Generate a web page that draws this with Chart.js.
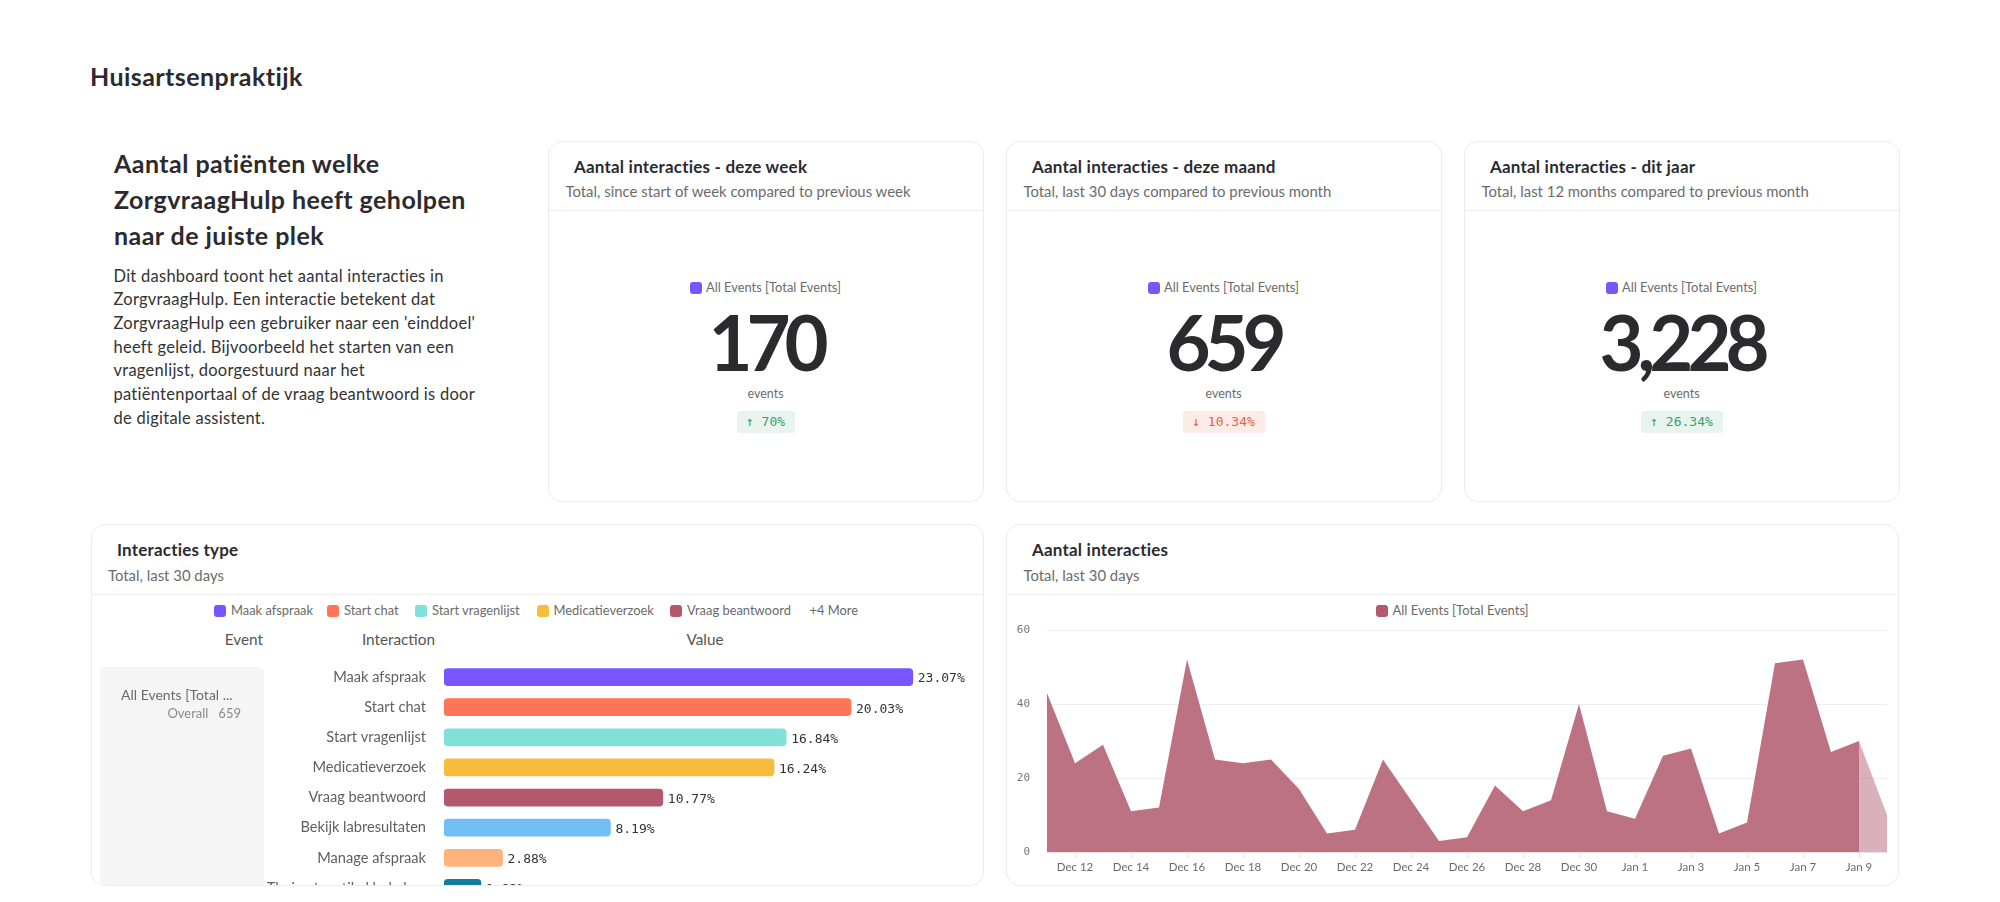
<!DOCTYPE html>
<html>
<head>
<meta charset="utf-8">
<title>Huisartsenpraktijk</title>
<script src="https://cdn.jsdelivr.net/npm/chart.js@4"></script>
<style>
  html, body { margin: 0; background: #fff; }
  body { position: relative; width: 2000px; height: 902px; overflow: hidden; font-family: Lato, sans-serif; color: #2b2b2f; }
  .card { position: absolute; box-sizing: border-box; border: 1px solid #ececec; border-radius: 14px; overflow: hidden; }
  .rule { position: absolute; left: 0; right: 0; height: 1px; background: #eeeeee; }
  .t { position: absolute; white-space: pre; transform: translateY(-50%); line-height: 1.2; }
  .sq { position: absolute; width: 12px; height: 12px; border-radius: 3px; transform: translateY(-50%); }
  .badge { position: absolute; height: 22px; border-radius: 3px; }
  canvas { position: absolute; display: block; }
</style>
</head>
<body>
<canvas id="bar-chart" width="892" height="241"></canvas>
<canvas id="area-chart" width="892" height="266" style="left:1006px;top:620px"></canvas>
<script>
// Data
const barLabels = ["Maak afspraak", "Start chat", "Start vragenlijst", "Medicatieverzoek", "Vraag beantwoord", "Bekijk labresultaten", "Manage afspraak", "Thuisarts artikel bekeken"];
const barValues = [23.07, 20.03, 16.84, 16.24, 10.77, 8.19, 2.88, 1.82];
const barColors = ["#7856ff", "#ff7557", "#80e1d9", "#f8bc3b", "#b2596e", "#72bef4", "#ffb27a", "#0f7ea0"];
const legendLabels = ["Maak afspraak", "Start chat", "Start vragenlijst", "Medicatieverzoek", "Vraag beantwoord"];

const dayLabels = ["Dec 11", "Dec 12", "Dec 13", "Dec 14", "Dec 15", "Dec 16", "Dec 17", "Dec 18", "Dec 19", "Dec 20", "Dec 21", "Dec 22", "Dec 23", "Dec 24", "Dec 25", "Dec 26", "Dec 27", "Dec 28", "Dec 29", "Dec 30", "Dec 31", "Jan 1", "Jan 2", "Jan 3", "Jan 4", "Jan 5", "Jan 6", "Jan 7", "Jan 8", "Jan 9", "Jan 10"];
const dayValues = [43, 24, 29, 11, 12, 52, 25, 24, 25, 17, 5, 6, 25, 14, 3, 4, 18, 11, 14, 40, 11, 9, 26, 28, 5, 8, 51, 52, 27, 30, 10];

const kpiTitles = ["Aantal interacties - deze week", "Aantal interacties - deze maand", "Aantal interacties - dit jaar"];
const kpiSubtitles = ["Total, since start of week compared to previous week", "Total, last 30 days compared to previous month", "Total, last 12 months compared to previous month"];
const kpiValues = ["170", "659", "3,228"];
const kpiDeltas = ["↑ 70%", "↓ 10.34%", "↑ 26.34%"];
const kpiUp = [true, false, true];

const introHeading = ["Aantal patiënten welke", "ZorgvraagHulp heeft geholpen", "naar de juiste plek"];
const introBody = ["Dit dashboard toont het aantal interacties in", "ZorgvraagHulp. Een interactie betekent dat", "ZorgvraagHulp een gebruiker naar een 'einddoel'", "heeft geleid. Bijvoorbeeld het starten van een", "vragenlijst, doorgestuurd naar het", "patiëntenportaal of de vraag beantwoord is door", "de digitale assistent."];

const MONO = "'DejaVu Sans Mono', monospace";
const GREY = "#6b6b6b";

// Small helpers for the page furniture (page coordinates, y = middle of the text)
function text(str, x, y, size, color, weight, align, font, spacing) {
  const el = document.createElement("div");
  el.className = "t";
  el.textContent = str;
  el.style.top = y + "px";
  el.style.fontSize = size + "px";
  el.style.color = color || "#2b2b2f";
  if (weight) el.style.fontWeight = weight;
  if (font) el.style.fontFamily = font;
  if (spacing) el.style.letterSpacing = spacing + "px";
  if (align === "right") el.style.right = (2000 - x) + "px";
  else if (align === "center") { el.style.left = x + "px"; el.style.transform = "translate(-50%,-50%)"; }
  else el.style.left = x + "px";
  document.body.appendChild(el);
  return el;
}

function square(x, y, color) {
  const el = document.createElement("div");
  el.className = "sq";
  el.style.left = x + "px";
  el.style.top = y + "px";
  el.style.background = color;
  document.body.appendChild(el);
}

function card(x, y, w, h, ruleY) {
  const el = document.createElement("div");
  el.className = "card";
  el.style.cssText = `left:${x}px;top:${y}px;width:${w}px;height:${h}px`;
  const rule = document.createElement("div");
  rule.className = "rule";
  rule.style.top = (ruleY - y - 1) + "px";
  el.appendChild(rule);
  document.body.appendChild(el);
  return el;
}

// Page title and intro
text("Huisartsenpraktijk", 90, 75.5, 25, "#2b2b2f", 700, null, null, 0.44);
introHeading.forEach((line, i) => text(line, 114, 163 + i * 36, 25, "#2b2b2f", 700, null, null, 0.45));
introBody.forEach((line, i) => text(line, 113.5, 276.5 + i * 23.7, 16.5, "#333333", null, null, null, 0.26));

// KPI cards
const kpiLeft = [548, 1006, 1464];
kpiLeft.forEach((x, i) => {
  card(x, 141, 436, 361, 210);
  const mid = x + 217.5;
  text(kpiTitles[i], x + 26, 167, 17, "#2b2b2f", 700, null, null, 0.2);
  text(kpiSubtitles[i], x + 17.5, 191.5, 14.9, GREY);
  square(x + 142, 287.5, "#7856ff");
  text("All Events [Total Events]", x + 158, 287.5, 12.9, GREY);
  text(kpiValues[i], mid, 342, 76, "#2b2b2f", 700, "center", null, -6);
  text("events", mid, 392.5, 12.5, GREY, null, "center");
  const up = kpiUp[i];
  const w = kpiDeltas[i].length > 6 ? 82 : 58;
  const b = document.createElement("div");
  b.className = "badge";
  b.style.cssText = `left:${mid - w / 2}px;top:411px;width:${w}px;background:${up ? "#e9f4ee" : "#fdebe7"}`;
  document.body.appendChild(b);
  text(kpiDeltas[i], mid, 422, 13, up ? "#3c9f6f" : "#e8604a", null, "center", MONO);
});

// Bottom left card: interaction types
const barCard = card(90.5, 524, 893, 362, 594);
text("Interacties type", 117, 549.5, 17, "#2b2b2f", 700, null, null, 0.2);
text("Total, last 30 days", 108, 575.5, 14.9, GREY);

const legendX = [214, 327, 415, 536.5, 670];
legendLabels.forEach((label, i) => {
  square(legendX[i], 611, barColors[i]);
  text(label, legendX[i] + 17, 611, 12.9, GREY);
});
text("+4 More", 809.5, 611, 12.9, GREY);

text("Event", 263, 639, 15.3, "#555555", null, "right");
text("Interaction", 435, 639, 15.3, "#555555", null, "right");
text("Value", 705, 639, 15.3, "#555555", null, "center");

const panel = document.createElement("div");
panel.style.cssText = "position:absolute;left:8px;top:142px;width:164px;height:240px;background:#f5f5f5;border-radius:6px";
barCard.appendChild(panel);
text("All Events [Total ...", 121, 694.5, 14, GREY);
text("Overall   659", 241, 713.5, 13, "#8a8a8a", null, "right");

// the last bar runs under the card edge, so the canvas lives inside the card
const barCanvas = document.getElementById("bar-chart");
barCanvas.style.cssText = "left:0;top:137px";
barCard.appendChild(barCanvas);

// Percent labels at the end of each bar
const barValueLabels = {
  id: "barValueLabels",
  afterDatasetsDraw(chart) {
    const { ctx } = chart;
    ctx.save();
    ctx.font = "13px " + MONO;
    ctx.fillStyle = "#333333";
    ctx.textBaseline = "middle";
    chart.getDatasetMeta(0).data.forEach((bar, i) => {
      ctx.fillText(barValues[i].toFixed(2) + "%", bar.x + 5, bar.y + 2);
    });
    ctx.restore();
  },
};

new Chart(barCanvas.getContext("2d"), {
  type: "bar",
  data: {
    labels: barLabels,
    datasets: [{
      data: barValues,
      backgroundColor: barColors,
      barThickness: 17,
      borderRadius: 4,
      borderSkipped: false,
    }],
  },
  options: {
    indexAxis: "y",
    responsive: false,
    animation: false,
    layout: { padding: { right: 32 } },
    plugins: { legend: { display: false }, tooltip: { enabled: false } },
    scales: {
      x: { display: false, min: 0, max: 25 },
      y: {
        grid: { display: false, drawTicks: false },
        border: { display: false },
        ticks: { padding: 18, color: "#5f5f5f", font: { family: "Lato", size: 14.6 }, autoSkip: false },
        afterFit(scale) {
          scale.width = 352;
          // no extra room above and below for the outer labels
          scale.paddingTop = 0;
          scale.paddingBottom = 0;
        },
      },
    },
  },
  plugins: [barValueLabels],
});

// Bottom right card: interactions per day
card(1006, 524, 893, 362, 594);
text("Aantal interacties", 1032, 549.5, 17, "#2b2b2f", 700, null, null, 0.2);
text("Total, last 30 days", 1023.5, 575.5, 14.9, GREY);
square(1376, 611, "#b2596e");
text("All Events [Total Events]", 1392.5, 611, 13, GREY);

const areaCanvas = document.getElementById("area-chart");
document.body.appendChild(areaCanvas);
new Chart(areaCanvas.getContext("2d"), {
  type: "line",
  data: {
    labels: dayLabels,
    datasets: [{
      data: dayValues,
      fill: "origin",
      tension: 0,
      borderWidth: 0,
      pointRadius: 0,
      backgroundColor: "rgba(178, 89, 110, 0.85)",
      // the running day is drawn paler
      segment: {
        backgroundColor: (ctx) => (ctx.p0DataIndex === dayValues.length - 2 ? "rgba(178, 89, 110, 0.48)" : undefined),
      },
    }],
  },
  options: {
    responsive: false,
    animation: false,
    layout: { padding: { top: 10, right: 11 } },
    plugins: { legend: { display: false }, tooltip: { enabled: false } },
    scales: {
      x: {
        grid: {
          drawOnChartArea: false,
          tickLength: 6,
          color: (ctx) => (ctx.index % 2 === 1 ? "#e3e3e3" : "rgba(0,0,0,0)"),
        },
        border: { color: "#eedfe2" },
        ticks: {
          autoSkip: false,
          maxRotation: 0,
          padding: 2,
          color: GREY,
          font: { family: "Lato", size: 11.5 },
          callback(value, index) { return index % 2 === 1 ? dayLabels[index] : ""; },
        },
        afterFit(scale) { scale.height = 34; },
      },
      y: {
        min: 0,
        max: 60,
        grid: { color: "#eeeeee", drawTicks: false },
        border: { display: false },
        ticks: {
          stepSize: 20,
          padding: 17,
          color: "#757575",
          font: { family: "'DejaVu Sans Mono'", size: 11 },
        },
        afterFit(scale) {
          scale.width = 41;
          scale.paddingTop = 0;
          scale.paddingBottom = 0;
        },
      },
    },
  },
});
</script>
</body>
</html>
